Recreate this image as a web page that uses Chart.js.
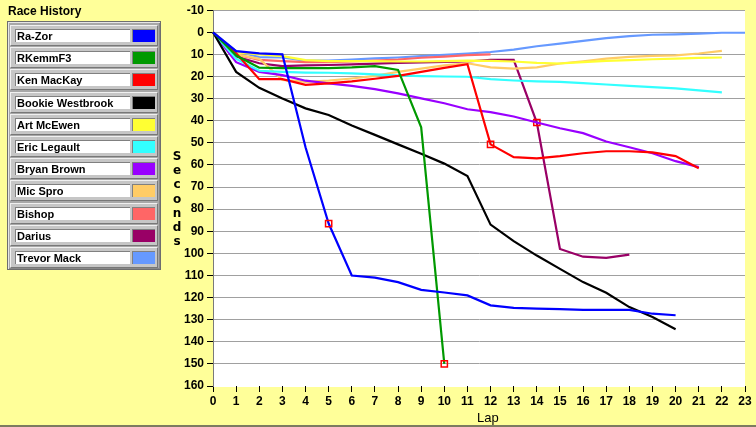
<!DOCTYPE html>
<html>
<head>
<meta charset="utf-8">
<script src="https://cdn.jsdelivr.net/npm/chart.js@4.4.0/dist/chart.umd.min.js"></script>
<style>
  html, body { margin: 0; padding: 0; }
  body {
    width: 756px; height: 427px; position: relative; overflow: hidden;
    background: #FFFF99; font-family: "Liberation Sans", Arial, sans-serif;
  }
  #wrap { position: absolute; left: 0; top: 0; width: 756px; height: 427px; }
  #title { position: absolute; left: 8px; top: 4px; font-size: 12px; font-weight: bold; color: #000; }
  #legend {
    position: absolute; left: 7px; top: 21px; width: 152px; height: 247px;
    background: #a8a8a8; border: 1px solid #6e6e6e;
    box-shadow: inset 1px 1px 0 #e6e6e6, inset -1px -1px 0 #888;
  }
  .row {
    position: absolute; left: 2px; width: 146px; height: 19px;
    background: #c6c6c6;
    border-top: 1px solid #f0f0f0; border-left: 1px solid #f0f0f0;
    border-bottom: 1px solid #787878; border-right: 1px solid #787878;
  }
  .field {
    position: absolute; left: 4px; top: 3px; width: 113px; height: 12px;
    background: #fff; border-top: 1px solid #808080; border-left: 1px solid #808080;
    font-size: 11px; font-weight: bold; line-height: 12px; padding-left: 1px;
    white-space: nowrap; overflow: hidden; color: #000;
  }
  .swatch {
    position: absolute; left: 121px; top: 3px; width: 22px; height: 12px;
    border-top: 1px solid #808080; border-left: 1px solid #808080;
  }
  #ytitle {
    position: absolute; left: 170px; top: 149px; width: 14px; text-align: center;
    font-family: "DejaVu Sans", sans-serif; font-size: 12px; font-weight: bold; line-height: 14.2px;
  }
  #xtitle { position: absolute; left: 477px; top: 410px; font-size: 13px; color: #000; }
  #bottomline { position: absolute; left: 0; top: 425px; width: 756px; height: 2px; background: #7c7c60; }
</style>
</head>
<body>
<div id="wrap"><canvas id="chart" width="756" height="427"></canvas></div>
<div id="title">Race History</div>
<div id="legend"></div>
<div id="ytitle"></div>
<div id="xtitle">Lap</div>
<div id="bottomline"></div>
<script>
// laps on the x axis
const laps = [0,1,2,3,4,5,6,7,8,9,10,11,12,13,14,15,16,17,18,19,20,21,22,23];
const yTicks = [-10, 160];

const names = ['Ra-Zor', 'RKemmF3', 'Ken MacKay', 'Bookie Westbrook', 'Art McEwen', 'Eric Legault',
               'Bryan Brown', 'Mic Spro', 'Bishop', 'Darius', 'Trevor Mack'];
const colors = ['#0000FF', '#009900', '#FF0000', '#000000', '#FFFF33', '#33FFFF',
                '#9900FF', '#FFCC66', '#FF6666', '#990066', '#6699FF'];

// seconds behind the leader, one value per lap
const raZor     = [0, 8.5, 9.5, 10, 52, 86.5, 110, 111, 113, 116.5, 117.7, 119, 123.5, 124.7, 125, 125.2, 125.6, 125.6, 125.6, 127.3, 128];
const rKemm     = [0, 10.5, 16, 16.2, 16.2, 16.2, 15.9, 15.3, 17, 43, 150];
const kenMacKay = [0, 9.5, 21.2, 21.2, 23.8, 23.1, 22.2, 21, 19.7, 17.9, 16.1, 14.4, 50.7, 56.5, 57, 56, 54.7, 53.8, 53.8, 54.3, 56, 61.5];
const bookie    = [0, 17.9, 25.1, 29.9, 34.4, 37.4, 42.2, 46.4, 50.7, 54.9, 59.4, 65, 87, 94.5, 101, 107, 113, 117.8, 124.3, 128.8, 134.3];
const artMc     = [0, 9, 10, 10.8, 12.6, 13, 13, 13, 13.2, 13.2, 13, 12.8, 12.9, 13.2, 13.8, 14.1, 13.5, 12.9, 12.6, 12.2, 11.9, 11.6, 11.4];
const ericL     = [0, 12, 17.4, 17.9, 18.2, 18.3, 18.6, 19, 19.5, 19.8, 20, 20.1, 21.2, 21.8, 22.2, 22.4, 23, 23.6, 24.2, 24.8, 25.4, 26.3, 27.2];
const bryanB    = [0, 13.5, 17.9, 19.4, 21.9, 23.1, 24.2, 25.7, 27.6, 29.9, 32.1, 34.8, 36.1, 38.1, 40.8, 43.4, 45.6, 49.4, 52, 54.7, 58.3, 61];
const micSpro   = [0, 10, 12, 21.5, 22.4, 21.9, 20.9, 19.7, 17.9, 16.4, 15, 14, 15.9, 16.4, 15.9, 14.1, 13.1, 11.9, 11.1, 10.7, 10.4, 9.6, 8.4];
const bishop    = [0, 10, 12.5, 13, 13.5, 13.5, 13.2, 12.8, 12.3, 11.5, 11, 10.3, 10];
const darius    = [0, 11, 14, 15.3, 15, 14.8, 14.5, 14.2, 13.8, 13.6, 13.4, 13.2, 12.5, 12.5, 40.8, 98, 101.5, 102, 100.6];
const trevor    = [0, 8.5, 11.2, 11.4, 12.8, 12.8, 12.3, 11.8, 11.4, 10.8, 10.2, 9.6, 8.9, 7.8, 6.3, 5.1, 3.9, 2.6, 1.7, 1.1, 0.9, 0.6, 0.2, 0.2];

const series = [raZor, rKemm, kenMacKay, bookie, artMc, ericL, bryanB, micSpro, bishop, darius, trevor];

// red square markers: [series index, lap]
const pitMarks = [[0, 5], [1, 10], [2, 12], [9, 14]];

function isMark(ds, lap) {
    return pitMarks.some(m => m[0] === ds && m[1] === lap);
}

// legend panel
const legendBox = document.getElementById('legend');
names.forEach(function (name, i) {
    const row = document.createElement('div');
    row.className = 'row';
    row.style.top = (3 + 22.2 * i) + 'px';
    const field = document.createElement('div');
    field.className = 'field';
    field.textContent = name;
    const sw = document.createElement('div');
    sw.className = 'swatch';
    sw.style.background = colors[i];
    row.appendChild(field);
    row.appendChild(sw);
    legendBox.appendChild(row);
});

// stacked y axis title
document.getElementById('ytitle').innerHTML = 'Seconds'.split('').join('<br>');

const plotBg = {
    id: 'plotBg',
    beforeDraw(chart) {
        const a = chart.chartArea;
        const ctx = chart.ctx;
        ctx.save();
        ctx.fillStyle = '#FFFFFF';
        ctx.fillRect(a.left, a.top, a.right - a.left, a.bottom - a.top + 1);
        ctx.restore();
    }
};

const tickFont = { family: '"Liberation Sans", Arial, sans-serif', size: 12, weight: 'bold' };

new Chart(document.getElementById('chart'), {
    type: 'line',
    data: {
        labels: laps,
        datasets: series.map(function (vals, i) {
            return {
                label: names[i],
                data: vals,
                borderColor: colors[i],
                borderWidth: 2.2,
                tension: 0,
                fill: false,
                pointStyle: 'rect',
                pointRadius: ctx => isMark(ctx.datasetIndex, ctx.dataIndex) ? 4.4 : 0,
                pointBorderColor: '#FF0000',
                pointBackgroundColor: 'rgba(0,0,0,0)',
                pointBorderWidth: 1.5
            };
        })
    },
    options: {
        responsive: false,
        devicePixelRatio: 1,
        animation: false,
        events: [],
        layout: { padding: { left: 150, right: 11, top: 8, bottom: 0 } },
        plugins: { legend: { display: false }, tooltip: { enabled: false } },
        scales: {
            x: {
                type: 'category',
                offset: false,
                afterFit: s => { s.height = 41; },
                grid: { display: true, drawOnChartArea: false, drawTicks: true, tickLength: 6, tickColor: '#000', offset: false },
                border: { display: false },
                ticks: { autoSkip: false, maxRotation: 0, color: '#000', font: tickFont, padding: 2 }
            },
            y: {
                reverse: true,
                min: yTicks[0],
                max: yTicks[1],
                afterFit: s => { s.width = 63; },
                grid: {
                    color: ctx => ctx.tick && ctx.tick.value === yTicks[1] ? 'rgba(0,0,0,0)' : '#A0A0A0',
                    lineWidth: 1,
                    tickLength: 6,
                    tickColor: '#000'
                },
                border: { display: true, color: '#7a7a7a', width: 1 },
                ticks: { stepSize: 10, color: '#000', font: tickFont, padding: 3 }
            }
        }
    },
    plugins: [plotBg]
});
</script>
</body>
</html>
